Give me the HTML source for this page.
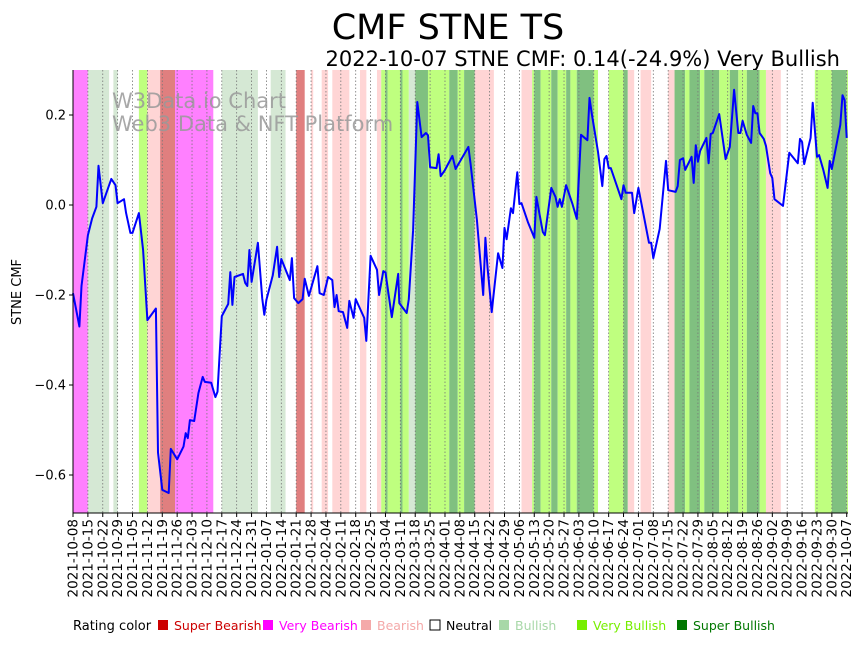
<!DOCTYPE html>
<html><head><meta charset="utf-8">
<style>
body{margin:0;background:#fff;width:864px;height:641px;overflow:hidden;font-family:"Liberation Sans","DejaVu Sans",sans-serif;}
svg text{font-family:"DejaVu Sans","Liberation Sans",sans-serif;}
</style></head>
<body>
<svg id="chart" width="864" height="641" xmlns="http://www.w3.org/2000/svg">
<text x="448" y="39" font-size="35" text-anchor="middle">CMF STNE TS</text>
<text x="840" y="66" font-size="21" text-anchor="end">2022-10-07 STNE CMF: 0.14(-24.9%) Very Bullish</text>
<g id="bands"></g>
<g id="grid"></g>
<text x="112" y="108" font-size="21" fill="#999" fill-opacity="0.85">W3Data.io Chart</text>
<text x="112" y="131" font-size="21" fill="#999" fill-opacity="0.85">Web3 Data &amp; NFT Platform</text>
<g id="line"></g>
<g id="axes"></g>
<text transform="translate(21,292) rotate(-90)" font-size="13" text-anchor="middle">STNE CMF</text>
<g id="legend" font-size="13"></g>
</svg>
<script>
const ratingNames = ["Super Bearish","Very Bearish","Bearish","Neutral","Bullish","Very Bullish","Super Bullish"];
const ratingColors = ["#e07f7f","#ff80ff","#ffd5d5","#ffffff","#d5e8d4","#bfff7f","#80c080"];
const legendColors = ["#cc0000","#ff00ff","#f4a9a9","#ffffff","#a8d8a8","#77ee00","#007700"];
const bandStart = [0,7,19,31,35,41,48,70,93,105,112,117,122,135,143,145,147,148,154,155,158,161,167,177,181,184,189,211,216,217,220,225,228,232,234,237,245,252,259,261,267,280,283,288,290,295,297,304,309,313,317,323,326,349,357,364];
const bandEnd   = [7,17,21,35,41,48,66,87,100,109,113,120,130,138,145,147,148,154,155,158,161,167,177,181,184,189,198,216,217,220,225,228,232,234,237,245,247,259,261,264,272,283,288,290,295,297,304,309,313,317,323,326,333,357,364,364.6];
const bandRating= [1,4,4,5,2,0,1,4,4,0,2,2,2,2,2,5,6,5,6,5,4,6,5,6,5,6,2,2,5,6,5,6,5,6,5,6,5,5,6,2,2,2,6,5,6,5,6,5,6,5,6,5,2,5,6,5];
const days = [0,3,4,7,9,11,12,14,18,20,21,24,25,27,28,31,33,35,39,40,42,45,46,49,52,53,54,55,57,59,61,62,65,67,68,70,73,74,75,76,80,81,82,83,84,87,89,90,91,94,96,97,98,102,103,104,106,108,109,111,115,116,118,120,122,123,124,125,127,129,130,132,133,137,138,140,143,144,146,147,150,153,153.5,157,158,160,162,164,166,167,168,171,172,173,175,178.5,180,186,187,190,193,194,195,197,200,202,203,204,206,207,209,210,211,214,217,218,221,222,225,227,228,229,230,232,235,237,239,242,243,244,247,249,250,251,252,253,258,259,260,263,264,266,271,272,273,276,279,280,283.5,284.5,285.5,287,288,291,292,293,294,295,298,299,300,301,304,307,309,311,313,314,315,317,319,320,321,322,323,325,326,328,329,330,334,337,341,342,343,344,347,348,350,351,353,355,356,357,361,362,363,364];
const values = [-0.196,-0.27,-0.18,-0.067,-0.03,-0.004,0.087,0.004,0.058,0.044,0.004,0.013,-0.018,-0.062,-0.062,-0.018,-0.1,-0.256,-0.23,-0.55,-0.633,-0.64,-0.542,-0.565,-0.537,-0.507,-0.518,-0.478,-0.48,-0.418,-0.382,-0.393,-0.395,-0.427,-0.415,-0.247,-0.22,-0.149,-0.222,-0.16,-0.153,-0.173,-0.18,-0.1,-0.171,-0.084,-0.207,-0.244,-0.211,-0.156,-0.093,-0.16,-0.12,-0.167,-0.118,-0.207,-0.218,-0.209,-0.164,-0.202,-0.136,-0.196,-0.2,-0.16,-0.167,-0.227,-0.2,-0.236,-0.238,-0.273,-0.213,-0.251,-0.209,-0.251,-0.302,-0.113,-0.144,-0.2,-0.147,-0.15,-0.249,-0.153,-0.218,-0.24,-0.209,-0.056,0.229,0.151,0.16,0.155,0.084,0.082,0.113,0.064,0.078,0.109,0.08,0.129,0.093,-0.033,-0.2,-0.073,-0.138,-0.238,-0.107,-0.14,-0.051,-0.076,-0.007,-0.018,0.073,0.002,0.004,-0.038,-0.073,0.018,-0.06,-0.067,0.038,0.018,-0.004,0.013,-0.004,0.044,0.002,-0.031,0.156,0.144,0.238,0.204,0.118,0.042,0.102,0.109,0.082,0.082,0.013,0.044,0.027,0.027,-0.018,0.038,-0.084,-0.084,-0.118,-0.053,0.098,0.033,0.029,0.042,0.1,0.104,0.078,0.107,0.049,0.133,0.096,0.12,0.149,0.093,0.158,0.16,0.202,0.102,0.129,0.256,0.16,0.16,0.187,0.156,0.138,0.22,0.204,0.204,0.16,0.147,0.131,0.071,0.06,0.013,-0.002,0.116,0.093,0.147,0.14,0.091,0.149,0.227,0.107,0.111,0.078,0.038,0.098,0.08,0.178,0.244,0.233,0.149];
const yTicks = [0.2,0.0,-0.2,-0.4,-0.6];
const yTickLabels = ["0.2","0.0","\u22120.2","\u22120.4","\u22120.6"];
const startDate = "2021-10-08";
const tickCount = 53;

const NS = "http://www.w3.org/2000/svg";
const X0=73, X1=848, Y0=70, Y1=513, DMAX=364.6;
const xScale = d => X0 + d*(X1-X0)/DMAX;
const yScale = v => 205 - 450*v;
function mk(tag, attrs, parent){const e=document.createElementNS(NS,tag);for(const k in attrs)e.setAttribute(k,attrs[k]);parent.appendChild(e);return e;}

const gB=document.getElementById('bands');
for(let i=0;i<bandStart.length;i++){
  const r=mk('rect',{x:xScale(bandStart[i]),y:Y0,width:Math.max(0,xScale(bandEnd[i])-xScale(bandStart[i])),height:Y1-Y0,fill:ratingColors[bandRating[i]]},gB);
  
  
}
const gG=document.getElementById('grid'), gA=document.getElementById('axes');
const base=new Date(startDate+"T00:00:00Z");
for(let i=0;i<tickCount;i++){
  const x=xScale(i*7);
  const l=mk('line',{x1:x,x2:x,y1:Y0,y2:Y1,stroke:'#777','stroke-width':0.8,'stroke-dasharray':'1.5,2'},gG);
  
  
  const t=mk('line',{x1:x,x2:x,y1:Y1,y2:Y1+4,stroke:'#000','stroke-width':1},gA);
  
  
  const dt=new Date(base.getTime()+i*7*86400000);
  const lab=mk('text',{transform:`translate(${x+4.5},519) rotate(-90)`,'font-size':13.5,'text-anchor':'end'},gA);
  lab.textContent=dt.toISOString().slice(0,10);
  
  
}
for(let i=0;i<yTicks.length;i++){
  const y=yScale(yTicks[i]);
  const t=mk('line',{x1:X0-4,x2:X0,y1:y,y2:y,stroke:'#000'},gA);
  
  
  const lab=mk('text',{x:X0-7,y:y+4.5,'font-size':13,'text-anchor':'end'},gA);
  lab.textContent=yTickLabels[i];
  
  
}
const ax=mk('path',{d:`M${X0},${Y0}V${Y1}H${X1}`,fill:'none',stroke:'#000','stroke-width':1},gA);



const gL=document.getElementById('line');
const pts=days.map((d,i)=>xScale(d).toFixed(1)+','+yScale(values[i]).toFixed(1)).join(' ');
const pl=mk('polyline',{points:pts,fill:'none',stroke:'#0000ff','stroke-width':2,'stroke-linejoin':'round'},gL);



const gLe=document.getElementById('legend');
const lt=mk('text',{x:73,y:630},gLe);
lt.textContent='Rating color';


const legX=[158,263,361,430,499,577,677];
for(let i=0;i<7;i++){
  const s=mk('rect',{x:legX[i],y:620,width:10,height:10,fill:legendColors[i],stroke:i==3?'#000':'none','stroke-width':1},gLe);
  
  
  const t=mk('text',{x:legX[i]+16,y:630,fill:i==3?'#000':legendColors[i],'font-size':12.5},gLe);
  t.textContent=ratingNames[i];
  
  
}
</script>
</body></html>
